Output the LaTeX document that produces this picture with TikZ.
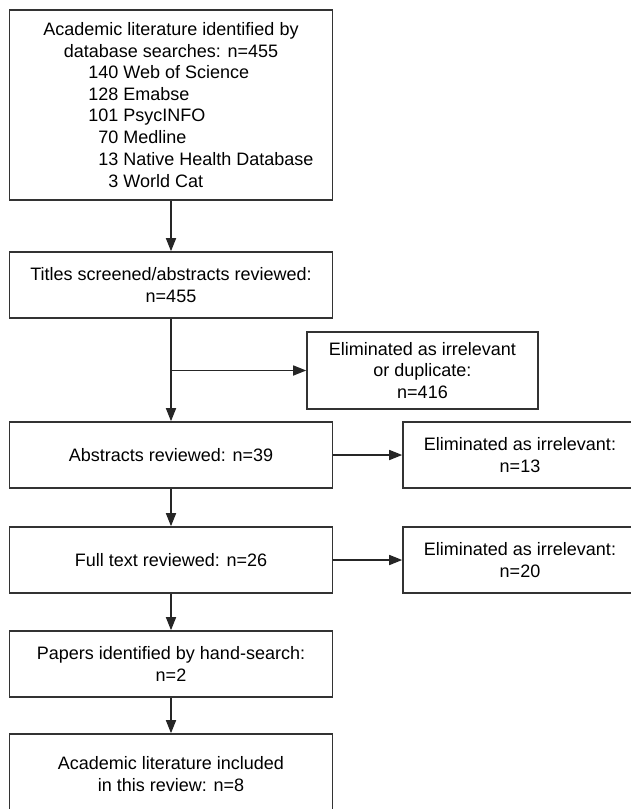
\documentclass[tikz,border=0pt]{standalone}
\usepackage{fontspec}
\setmainfont{Liberation Sans}
\usetikzlibrary{arrows.meta}

\tikzset{
	box/.style={draw=black!80, line width=0.8pt, inner sep=0pt, align=center,
		minimum width=161.5pt, minimum height=33pt},
	elimbox/.style={box, minimum width=117pt},
	arr/.style={draw=black!85, line width=0.8pt, -{Triangle[length=6.5pt,width=5pt]}}
}

\begin{document}
\begin{tikzpicture}[x=0.5pt,y=-0.5pt,font=\fontsize{9}{10.95}\selectfont]

		\useasboundingbox (0,0) rectangle (631,809);
		\clip (0,0) rectangle (631,809);

		% left column
		\node[box, minimum height=95pt] (search) at (171,105) {};
		\node[align=center, inner sep=0pt] (searchtitle) at (171,40) {Academic literature identified by\\database searches: n=455};
		\node[anchor=west, inner sep=0pt] (dblist) at (88,128.5) {\begin{tabular}{@{}r@{ }l@{}}
				140 & Web of Science\\
				128 & Emabse\\
				101 & PsycINFO\\
				70 & Medline\\
				13 & Native Health Database\\
				3 & World Cat
			\end{tabular}};

		\node[box] (screen) at (171,285) {Titles screened/abstracts reviewed:\\n=455};
		\node[box] (abstr) at (171,455) {Abstracts reviewed: n=39};
		\node[box] (fulltext) at (171,560) {Full text reviewed: n=26};
		\node[box] (hand) at (171,664) {Papers identified by hand-search:\\n=2};
		\node[box, minimum height=40.5pt] (incl) at (171,774.5) {Academic literature included\\in this review: n=8};

		% right column
		\node[elimbox, minimum width=115.5pt, minimum height=38.5pt] (elimA) at (422.5,370.5) {Eliminated as irrelevant\\or duplicate:\\n=416};
		\node[elimbox] (elimB) at (520,455) {Eliminated as irrelevant:\\n=13};
		\node[elimbox] (elimC) at (520,560) {Eliminated as irrelevant:\\n=20};

		\coordinate (split) at (screen.south |- elimA.west);

		\draw[arr] (search) -- (screen);
		\draw[arr] (screen) -- (abstr);
		\draw[arr] (split) -- (elimA);
		\draw[arr] (abstr) -- (elimB);
		\draw[arr] (abstr) -- (fulltext);
		\draw[arr] (fulltext) -- (elimC);
		\draw[arr] (fulltext) -- (hand);
		\draw[arr] (hand) -- (incl);

	\end{tikzpicture}
\end{document}
